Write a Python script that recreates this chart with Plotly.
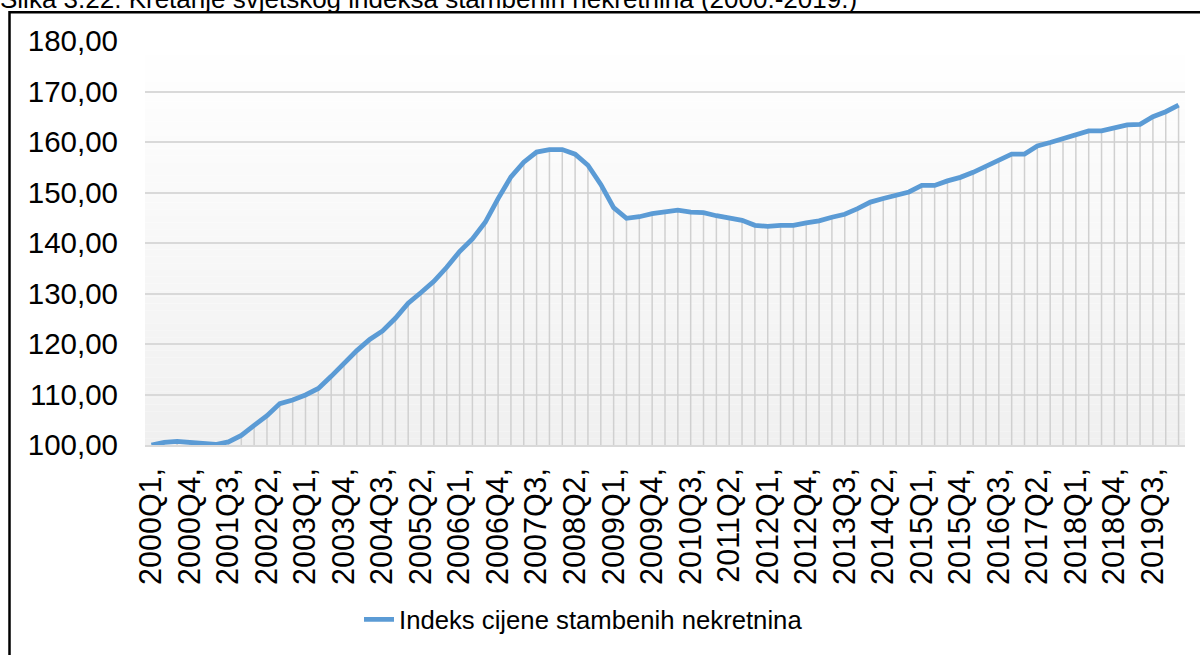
import plotly.graph_objects as go

# ---- data ----
quarters = [f"{y}Q{q}" for y in range(2000, 2020) for q in range(1, 5)] + ["2020Q1"]
index_values = [
    100.0, 100.5, 100.7, 100.5, 100.3, 100.1, 100.6, 101.9,   # 2000-2001
    103.9, 105.8, 108.2, 108.9, 109.9, 111.2, 113.6, 116.2,   # 2002-2003
    118.7, 120.9, 122.6, 125.1, 128.1, 130.2, 132.4, 135.2,   # 2004-2005
    138.3, 140.8, 144.1, 148.8, 153.1, 156.0, 158.0, 158.5,   # 2006-2007
    158.5, 157.6, 155.4, 151.6, 147.0, 144.9, 145.2, 145.8,   # 2008-2009
    146.1, 146.5, 146.1, 146.0, 145.4, 145.0, 144.5, 143.5,   # 2010-2011
    143.3, 143.5, 143.5, 144.0, 144.4, 145.1, 145.7, 146.8,   # 2012-2013
    148.1, 148.8, 149.4, 150.1, 151.4, 151.4, 152.3, 153.0,   # 2014-2015
    154.0, 155.2, 156.5, 157.6, 157.6, 159.2, 159.9, 160.6,   # 2016-2017
    161.4, 162.2, 162.2, 162.7, 163.4, 163.5, 165.0, 166.0,   # 2018-2019
    167.3,                                                     # 2020Q1
]
series_name = "Indeks cijene stambenih nekretnina"
title_text = "Slika 3.22. Kretanje svjetskog indeksa stambenih nekretnina (2000.-2019.)"
y_ticks = [100, 110, 120, 130, 140, 150, 160, 170, 180]
y_tick_labels = ["100,00", "110,00", "120,00", "130,00", "140,00",
                 "150,00", "160,00", "170,00", "180,00"]
label_step = 3

# ---- figure ----
x_idx = list(range(len(quarters)))
tick_idx = x_idx[::label_step][:27]
tick_text = [quarters[i] + "," for i in tick_idx]

FONT = "Liberation Sans, Arial, sans-serif"
W, H = 1200, 655
ML, MR, MT, MB = 145, 15, 41, 207
PW, PH = W - ML - MR, H - MT - MB

def px_to_paper_x(px):
    return (px - ML) / PW

def px_to_paper_y(py):
    return (H - MB - py) / PH

fig = go.Figure()

# drop lines from the axis to each point
dx, dy = [], []
for i, v in zip(x_idx, index_values):
    dx += [i, i, None]
    dy += [y_ticks[0], v, None]
fig.add_trace(go.Scatter(x=dx, y=dy, mode="lines",
                         line=dict(color="#d0d0d0", width=1.5),
                         hoverinfo="skip", showlegend=False))

fig.add_trace(go.Scatter(x=x_idx, y=index_values, mode="lines",
                         name=series_name,
                         line=dict(color="#5B9BD5", width=4.8)))

# gradient background of plot area
shapes = []
nb = 60
lo, hi = y_ticks[0], y_ticks[-1]
for k in range(nb):
    y0 = lo + (hi - lo) * k / nb
    y1 = lo + (hi - lo) * (k + 1) / nb
    t = 1 - (k + 0.5) / nb  # 1 at bottom
    c = int(round(255 - 15 * t))
    shapes.append(dict(type="rect", xref="paper", yref="y", x0=0, x1=1,
                       y0=y0, y1=y1, fillcolor=f"rgb({c},{c},{c})",
                       line=dict(width=0), layer="below"))
# outer chart border (extends past the page)
shapes.append(dict(type="rect", xref="paper", yref="paper",
                   x0=px_to_paper_x(9.5), x1=px_to_paper_x(1260),
                   y0=px_to_paper_y(720), y1=px_to_paper_y(12),
                   line=dict(color="black", width=2.5), layer="above"))

fig.update_layout(
    width=W, height=H,
    margin=dict(l=ML, r=MR, t=MT, b=MB),
    paper_bgcolor="white", plot_bgcolor="white",
    font=dict(family=FONT, size=27, color="black"),
    shapes=shapes,
    showlegend=True,
    legend=dict(orientation="h", x=px_to_paper_x(359), xanchor="left",
                y=px_to_paper_y(624), yanchor="middle",
                font=dict(size=25.7, family=FONT), bgcolor="rgba(0,0,0,0)"),
    annotations=[dict(text=title_text, xref="paper", yref="paper",
                      x=px_to_paper_x(-2), xanchor="left",
                      y=px_to_paper_y(16), yanchor="bottom",
                      showarrow=False, font=dict(size=26, family=FONT))],
)
fig.update_xaxes(range=[-0.5, len(quarters) - 0.5], tickmode="array",
                 tickvals=tick_idx, ticktext=tick_text, tickangle=-90,
                 showgrid=False, zeroline=False, showline=True,
                 linecolor="#d9d9d9", linewidth=1.5, ticks="",
                 tickfont=dict(size=30.5), ticklabelstandoff=9)
fig.update_yaxes(range=[lo, hi], tickmode="array", tickvals=y_ticks,
                 ticktext=y_tick_labels, showgrid=True, gridcolor="#d9d9d9",
                 gridwidth=1.5, zeroline=False, showline=False, ticks="",
                 tickfont=dict(size=29.5), ticklabelstandoff=26)

fig.write_html("out.html", config={"displayModeBar": False},
               post_script="document.body.style.margin='0';")
